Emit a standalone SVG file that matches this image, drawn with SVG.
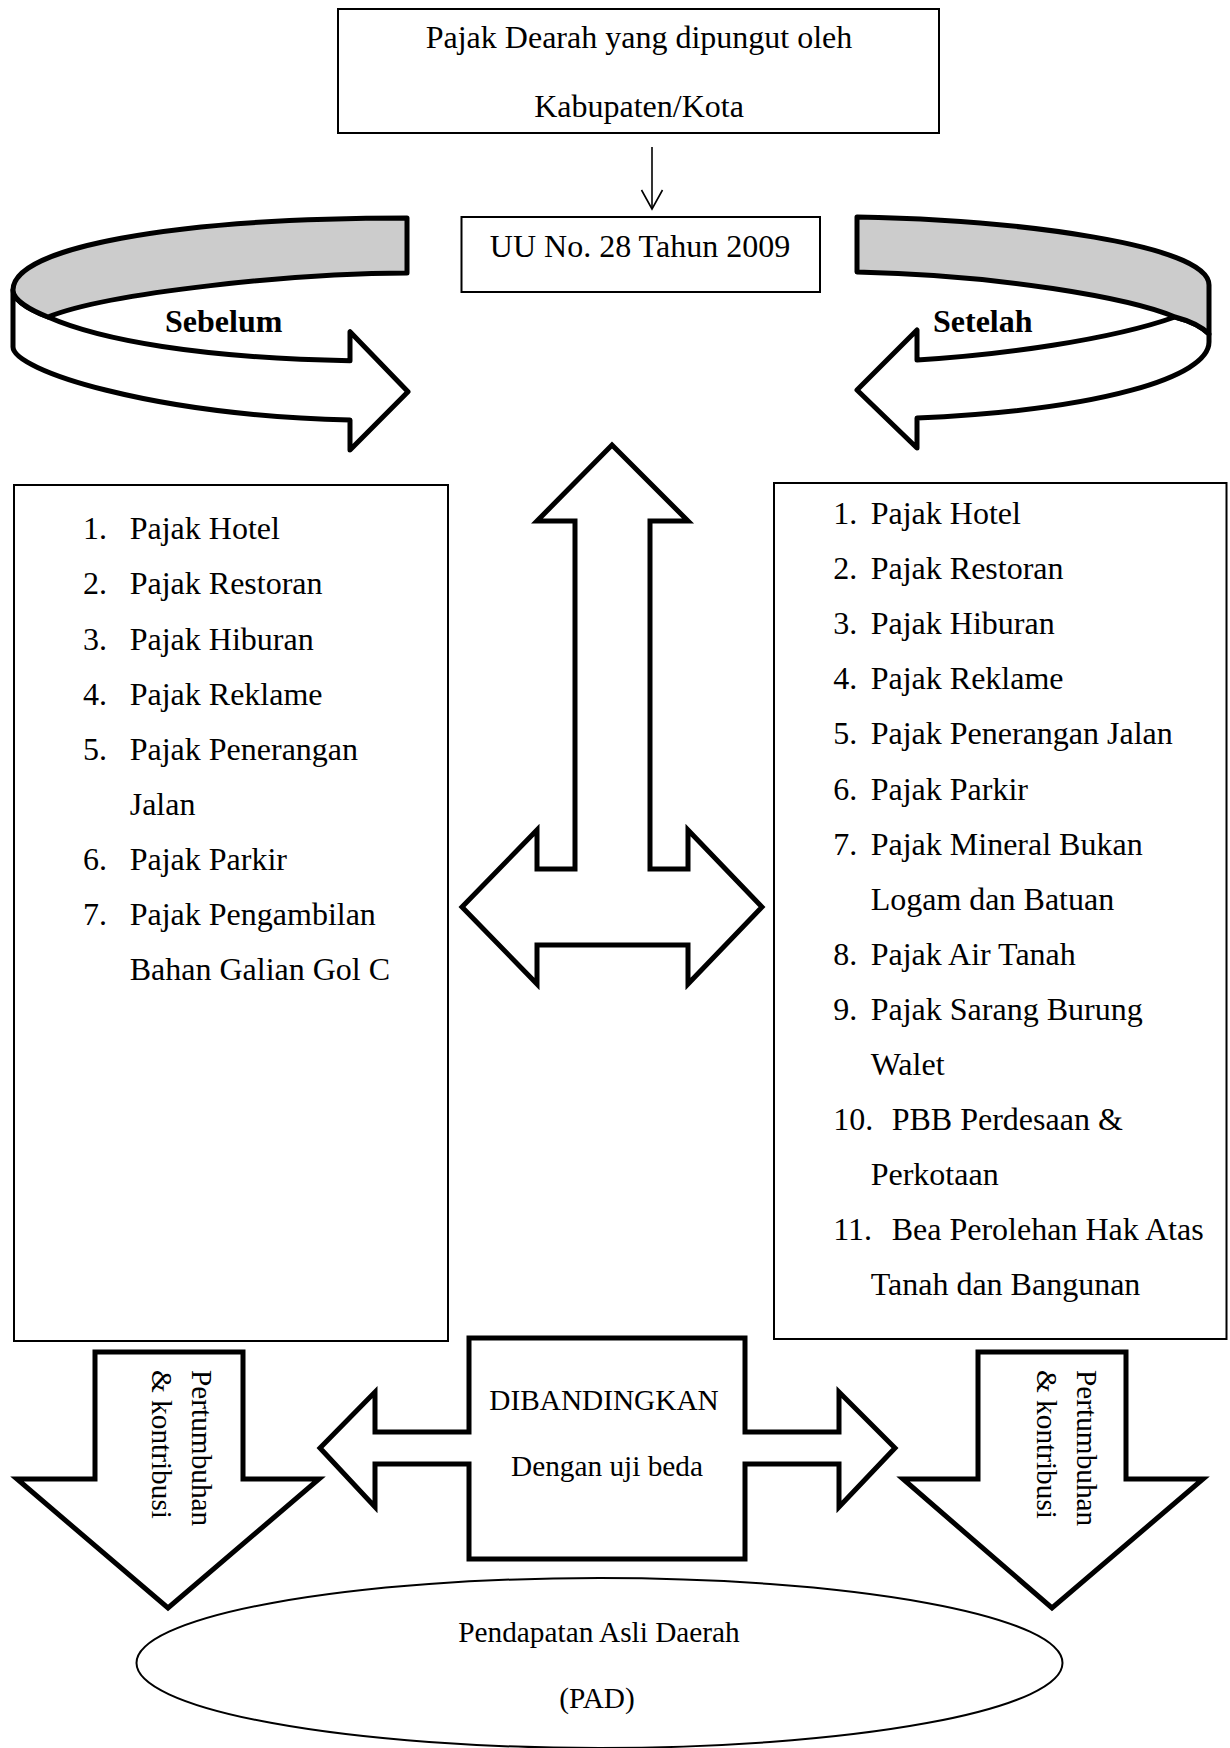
<svg xmlns="http://www.w3.org/2000/svg" width="1230" height="1748" viewBox="0 0 1230 1748">
<style>
.t{font-family:"Liberation Serif","Times New Roman",serif;font-size:32px;fill:#000}
.s{font-family:"Liberation Serif","Times New Roman",serif;font-size:29.3px;fill:#000}
.b{font-family:"Liberation Serif","Times New Roman",serif;font-size:32px;font-weight:bold;fill:#000}
.thin{fill:#fff;stroke:#000;stroke-width:2}
.thick{fill:#fff;stroke:#000;stroke-width:5;stroke-linejoin:miter}
.grey{fill:#cccccc;stroke:#000;stroke-width:5;stroke-linejoin:round}
.band{fill:#fff;stroke:#000;stroke-width:5;stroke-linejoin:round}
</style>
<defs>
<marker id="open" markerWidth="22" markerHeight="24" refX="19" refY="10.5" orient="auto" markerUnits="userSpaceOnUse" overflow="visible">
<path d="M0,0 L19,10.5 L0,21" fill="none" stroke="#000" stroke-width="1.6"/>
</marker>
</defs>
<rect width="1230" height="1748" fill="#fff"/>

<g id="top-box">
<rect class="thin" x="338" y="9" width="601" height="124"/>
<text class="t" x="639" y="48" text-anchor="middle">Pajak Dearah yang dipungut oleh</text>
<text class="t" x="639" y="117" text-anchor="middle">Kabupaten/Kota</text>
</g>

<g id="uu-box">
<rect class="thin" x="461.5" y="217" width="358.5" height="75"/>
<text class="t" x="640" y="257" text-anchor="middle">UU No. 28 Tahun 2009</text>
</g>

<g id="sebelum-arrow">
<path class="band" d="M13,290 L13,347 C13,370 150,415 350,420 L350,450 L408,391.7 L350,331.7 L350,360.7 C200,358 100,340 48,317 C30,310 13,300 13,290 Z"/>
<path class="grey" d="M13,290 C13,248 170,218 407,218 L407,273 C300,273 110,292 48,317 C30,310 13,300 13,290 Z"/>
<text class="b" x="165" y="332">Sebelum</text>
</g>

<g id="setelah-arrow">
<path class="band" d="M1175,317 Q1198,323 1209,334 L1209,342 C1209,377 1100,410 917,418 L917,448 L857,390 L917,330 L917,360 C1000,355 1110,340 1175,317 Z"/>
<path class="grey" d="M857,217 C1020,220 1209,245 1209,285 L1209,334 Q1198,323 1175,317 C1130,298 1000,275 857,272 Z"/>
<text class="b" x="933" y="332">Setelah</text>
</g>

<g id="list-sebelum">
<rect class="thin" x="14" y="485" width="434" height="856"/>
<g class="t">
<text x="83" y="539.3">1.</text><text x="129.7" y="539.3">Pajak Hotel</text>
<text x="83" y="594.4">2.</text><text x="129.7" y="594.4">Pajak Restoran</text>
<text x="83" y="649.5">3.</text><text x="129.7" y="649.5">Pajak Hiburan</text>
<text x="83" y="704.6">4.</text><text x="129.7" y="704.6">Pajak Reklame</text>
<text x="83" y="759.7">5.</text><text x="129.7" y="759.7">Pajak Penerangan</text>
<text x="129.7" y="814.8">Jalan</text>
<text x="83" y="869.9">6.</text><text x="129.7" y="869.9">Pajak Parkir</text>
<text x="83" y="925">7.</text><text x="129.7" y="925">Pajak Pengambilan</text>
<text x="129.7" y="980.1">Bahan Galian Gol C</text>
</g>
</g>

<g id="list-setelah">
<rect class="thin" x="774" y="483" width="452.5" height="856"/>
<g class="t">
<text x="833.3" y="524">1.</text><text x="870.7" y="524">Pajak Hotel</text>
<text x="833.3" y="579.1">2.</text><text x="870.7" y="579.1">Pajak Restoran</text>
<text x="833.3" y="634.2">3.</text><text x="870.7" y="634.2">Pajak Hiburan</text>
<text x="833.3" y="689.3">4.</text><text x="870.7" y="689.3">Pajak Reklame</text>
<text x="833.3" y="744.4">5.</text><text x="870.7" y="744.4">Pajak Penerangan Jalan</text>
<text x="833.3" y="799.5">6.</text><text x="870.7" y="799.5">Pajak Parkir</text>
<text x="833.3" y="854.6">7.</text><text x="870.7" y="854.6">Pajak Mineral Bukan</text>
<text x="870.7" y="909.7">Logam dan Batuan</text>
<text x="833.3" y="964.8">8.</text><text x="870.7" y="964.8">Pajak Air Tanah</text>
<text x="833.3" y="1019.9">9.</text><text x="870.7" y="1019.9">Pajak Sarang Burung</text>
<text x="870.7" y="1075">Walet</text>
<text x="833.3" y="1130.1">10.</text><text x="891.7" y="1130.1">PBB Perdesaan &amp;</text>
<text x="870.7" y="1185.2">Perkotaan</text>
<text x="833.3" y="1240.3">11.</text><text x="891.7" y="1240.3">Bea Perolehan Hak Atas</text>
<text x="870.7" y="1295.4">Tanah dan Bangunan</text>
</g>
</g>

<g id="connectors">
<line x1="652" y1="147" x2="652" y2="209" stroke="#000" stroke-width="1.6" marker-end="url(#open)"/>
<path class="thick" stroke-width="4.5" d="M612,445 L688,521 L650,521 L650,869 L688,869 L688,830 L762,907 L688,984 L688,945 L537,945 L537,984 L462,907 L537,830 L537,869 L575,869 L575,521 L537,521 Z"/>
</g>

<g id="arrow-left-down">
<path class="thick" d="M95,1352 L243,1352 L243,1479 L319,1479 L168,1608 L17,1479 L95,1479 Z"/>
<text class="s" transform="translate(192,1370) rotate(90)">Pertumbuhan</text>
<text class="s" transform="translate(152,1370) rotate(90)">&amp; kontribusi</text>
</g>

<g id="arrow-right-down">
<path class="thick" d="M978,1352 L1126,1352 L1126,1479 L1203,1479 L1052,1608 L903,1479 L978,1479 Z"/>
<text class="s" transform="translate(1077,1370) rotate(90)">Pertumbuhan</text>
<text class="s" transform="translate(1037,1370) rotate(90)">&amp; kontribusi</text>
</g>

<g id="dibandingkan">
<path class="thick" d="M469,1338 L745,1338 L745,1432 L839,1432 L839,1392 L895,1448 L839,1507 L839,1464 L745,1464 L745,1559 L469,1559 L469,1464 L375,1464 L375,1507 L320,1448 L375,1392 L375,1432 L469,1432 Z"/>
<text class="s" x="604" y="1410" text-anchor="middle">DIBANDINGKAN</text>
<text class="s" x="607" y="1476" text-anchor="middle">Dengan uji beda</text>
</g>

<g id="pad">
<ellipse class="thin" cx="599.5" cy="1663" rx="463" ry="85"/>
<text class="s" x="599" y="1642" text-anchor="middle">Pendapatan Asli Daerah</text>
<text class="s" x="597" y="1708" text-anchor="middle">(PAD)</text>
</g>
</svg>
